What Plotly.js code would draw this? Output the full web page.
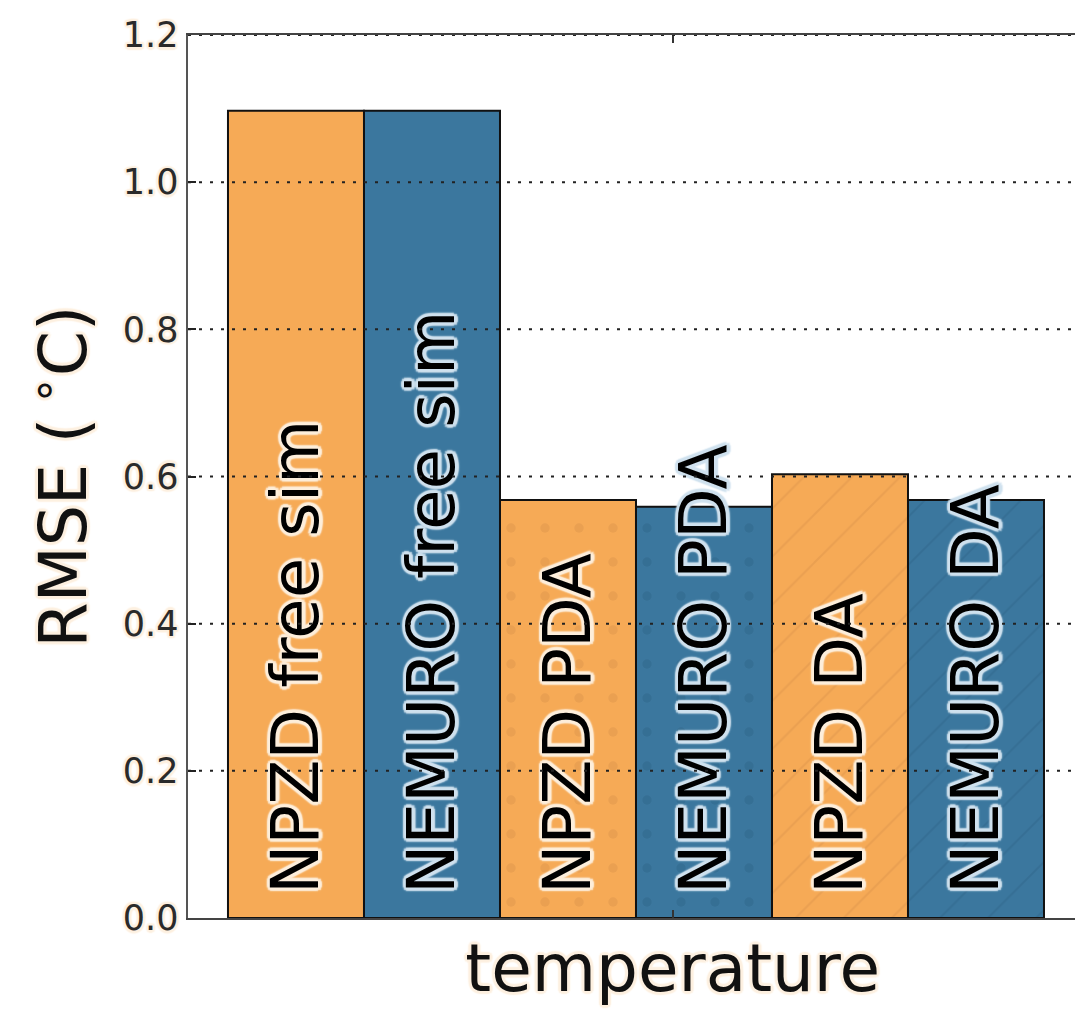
<!DOCTYPE html>
<html>
<head>
<meta charset="utf-8">
<script src="https://cdn.plot.ly/plotly-3.0.1.min.js"></script>
<style>html,body{margin:0;padding:0;background:#fff;}</style>
</head>
<body>
<div id="chart" style="width:1075px;height:1013px;"></div>
<script>
// ---- data ----
const models = ['NPZD', 'NEMURO'];
const experiments = ['free sim', 'PDA', 'DA'];
const npzdRmse = [1.097, 0.568, 0.603];
const nemuroRmse = [1.097, 0.559, 0.568];
const variableLabel = ['temperature'];
const yTickVals = [0.0, 0.2, 0.4, 0.6, 0.8, 1.0, 1.2];
const yTickText = ['0.0', '0.2', '0.4', '0.6', '0.8', '1.0', '1.2'];

// ---- styles ----
const FONT = 'DejaVu Sans, Bitstream Vera Sans, sans-serif';
const modelColors = ['#f6aa56', '#3b779e'];
const modelHalo = ['#fdeedb', '#cfe1ee'];
const modelPatternFg = ['#b9773a', '#1d4f70'];
const expPatterns = ['', '.', '/'];
const patternOpacity = [0.2, 0.2];

const seriesValues = [npzdRmse, nemuroRmse];

function halo(c, r) {
  const d = r || 3;
  const offs = [[d,0],[-d,0],[0,d],[0,-d],[d*0.7,d*0.7],[-d*0.7,d*0.7],[d*0.7,-d*0.7],[-d*0.7,-d*0.7]];
  return offs.map(o => o[0].toFixed(1) + 'px ' + o[1].toFixed(1) + 'px 1.5px ' + c).join(', ');
}

const traces = models.map((m, mi) => ({
  type: 'bar',
  name: m,
  x: experiments.map((e, ei) => ei * models.length + mi),
  y: seriesValues[mi],
  width: 1,
  text: experiments.map(e => '\u00a0' + m + ' ' + e),
  textposition: 'inside',
  insidetextanchor: 'start',
  textangle: -90,
  constraintext: 'none',
  cliponaxis: false,
  textfont: {family: FONT, size: 66, color: '#000', shadow: halo(modelHalo[mi], 3.5)},
  marker: {
    color: modelColors[mi],
    line: {color: '#111', width: 2},
    pattern: {
      shape: expPatterns,
      fgcolor: modelPatternFg[mi],
      fgopacity: patternOpacity[mi],
      size: 34,
      solidity: 0.06,
      fillmode: 'overlay'
    }
  },
  hoverinfo: 'x+y'
}));

// x tick for the variable group
const nBars = models.length * experiments.length;
const groupTick = [(nBars - 1) / 2 + 0.27];

const gridShapes = yTickVals.filter(v => v > 0).map(v => ({
  type: 'line', xref: 'paper', x0: 0, x1: 1, yref: 'y', y0: v, y1: v,
  layer: 'above',
  line: {color: '#222', width: 2, dash: '3px,8px'}
}));

const layout = {
  width: 1075,
  height: 1013,
  margin: {l: 188, r: 0, t: 35, b: 95},
  paper_bgcolor: '#fff',
  plot_bgcolor: '#fff',
  showlegend: false,
  barmode: 'overlay',
  bargap: 0,
  xaxis: {
    range: [-0.794, 5.728],
    tickvals: groupTick,
    ticktext: variableLabel,
    ticks: 'inside',
    ticklen: 8,
    tickwidth: 2,
    tickcolor: '#333',
    showline: true,
    linecolor: '#444',
    linewidth: 2,
    mirror: 'ticks',
    showgrid: false,
    zeroline: false,
    ticklabelstandoff: -8,
    tickfont: {family: FONT, size: 66, color: '#111', shadow: halo('#fdf0e0', 3)}
  },
  yaxis: {
    range: [0, 1.2],
    tickvals: yTickVals,
    ticktext: yTickText,
    ticks: 'inside',
    ticklen: 8,
    tickwidth: 2,
    tickcolor: '#222',
    showline: true,
    linecolor: '#555',
    linewidth: 2.5,
    showgrid: false,
    zeroline: false,
    tickfont: {family: FONT, size: 35, color: '#2a2a2a', shadow: halo('#fdf0e0', 2.5)},
    title: {
      text: 'RMSE (\u2009<sup>\u2218</sup>C)',
      standoff: 15,
      font: {family: FONT, size: 65, color: '#111', shadow: halo('#fdf0e0', 3)}
    }
  },
  shapes: gridShapes
};

Plotly.newPlot('chart', traces, layout, {displayModeBar: false, staticPlot: true});
</script>
</body>
</html>
